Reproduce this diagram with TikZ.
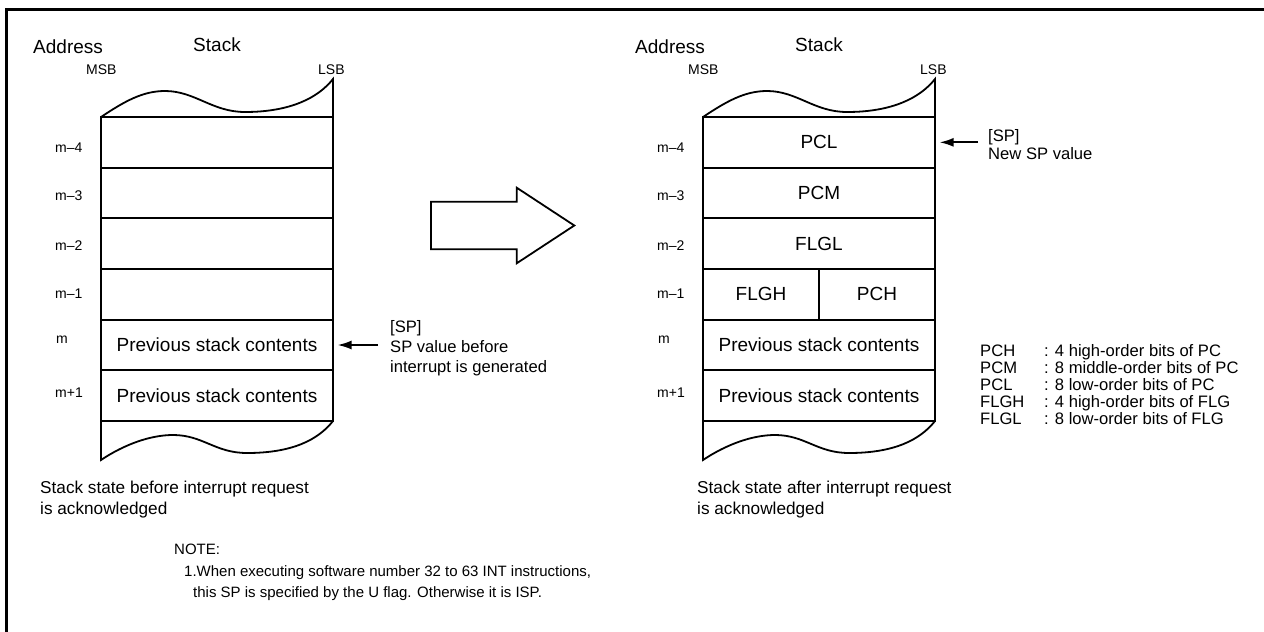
\documentclass[tikz,border=0pt]{standalone}
\usepackage{fontspec}
\setmainfont{Liberation Sans}
\usetikzlibrary{arrows.meta,calc}
\begin{document}
\begin{tikzpicture}[x=1pt,y=-1pt,
  cell/.style={draw, line width=1.8pt, minimum width=232pt, minimum height=50.67pt, inner sep=0pt, font=\fontsize{19}{22}\selectfont},
  halfcell/.style={cell, minimum width=116pt},
  edge/.style={line width=1.8pt, line join=miter},
  big/.style={inner sep=0pt, font=\fontsize{19}{22}\selectfont},
  addr/.style={inner sep=0pt, anchor=base west, font=\fontsize{14}{16}\selectfont},
  ann/.style={inner sep=0pt, anchor=base west, font=\fontsize{16.6}{20}\selectfont},
  captext/.style={inner sep=0pt, anchor=base west, font=\fontsize{17.2}{20}\selectfont},
  notetext/.style={inner sep=0pt, anchor=base west, font=\fontsize{15}{18}\selectfont},
  ptr/.style={line width=1.8pt, shorten >=3.7pt, -{Latex[length=14pt,width=9pt]}},
  frameline/.style={line width=2.7pt}]
\useasboundingbox (0,0) rectangle (1264,632);
% outer frame (top and left visible)
\draw[frameline] (6.2,640) -- (6.2,9.6) -- (1270,9.6);

% ---------------- left stack ----------------
\begin{scope}[name prefix=L-]
  \node[big, anchor=base west] (addr) at (33,53.8) {Address};
  \node[big, anchor=base] (stk) at (217,51.8) {Stack};
  \node[addr] (msb) at (86,74) {MSB};
  \node[addr] (lsb) at (318,74) {LSB};
  \draw[edge] (101,117) .. controls (125,101) and (143,91) .. (165,91)
     .. controls (195,91) and (212,112) .. (245,112)
     .. controls (290,112) and (318,98) .. (333,79) -- (333,117);
  \node[cell] (r1) at (217,142.33) {};
  \node[cell] (r2) at (217,193) {};
  \node[cell] (r3) at (217,243.67) {};
  \node[cell] (r4) at (217,294.33) {};
  \node[cell] (r5) at (217,345) {Previous stack contents};
  \node[cell] (r6) at (217,395.67) {Previous stack contents};
  \draw[edge] (101,421) -- (101,460) .. controls (125,444) and (151,435) .. (173,435)
     .. controls (203,435) and (215,453) .. (247,453)
     .. controls (292,453) and (318,440) .. (333,421);
  \node[addr] (a1) at (55,152) {m–4};
  \node[addr] (a2) at (55,200) {m–3};
  \node[addr] (a3) at (55,250.7) {m–2};
  \node[addr] (a4) at (55,298) {m–1};
  \node[addr] (a5) at (56,343.6) {m};
  \node[addr] (a6) at (55,397) {m+1};
  \node[ann] (sp1) at (390,332.7) {[SP]};
  \node[ann] (sp2) at (390,352.7) {SP value before};
  \node[ann] (sp3) at (390,372.7) {interrupt is generated};
  \coordinate (tail) at (378,345);
  \draw[ptr] (tail) -- (tail -| r5.east);
  \node[captext] (cap1) at (40,493) {Stack state before interrupt request};
  \node[captext] (cap2) at (40,514) {is acknowledged};
\end{scope}

% ---------------- big arrow ----------------
\draw[line width=1.8pt, line join=miter] (431,201.7) -- (516.7,201.7) -- (516.7,187.7) -- (574.3,225.5)
  -- (516.7,263.3) -- (516.7,249.3) -- (431,249.3) -- cycle;

% ---------------- right stack ----------------
\begin{scope}[shift={(602,0)}, name prefix=R-]
  \node[big, anchor=base west] (addr) at (33,53.8) {Address};
  \node[big, anchor=base] (stk) at (217,51.8) {Stack};
  \node[addr] (msb) at (86,74) {MSB};
  \node[addr] (lsb) at (318,74) {LSB};
  \draw[edge] (101,117) .. controls (125,101) and (143,91) .. (165,91)
     .. controls (195,91) and (212,112) .. (245,112)
     .. controls (290,112) and (318,98) .. (333,79) -- (333,117);
  \node[cell] (r1) at (217,142.33) {PCL};
  \node[cell] (r2) at (217,193) {PCM};
  \node[cell] (r3) at (217,243.67) {FLGL};
  \node[halfcell] (r4a) at (159,294.33) {FLGH};
  \node[halfcell] (r4b) at (275,294.33) {PCH};
  \node[cell] (r5) at (217,345) {Previous stack contents};
  \node[cell] (r6) at (217,395.67) {Previous stack contents};
  \draw[edge] (101,421) -- (101,460) .. controls (125,444) and (151,435) .. (173,435)
     .. controls (203,435) and (215,453) .. (247,453)
     .. controls (292,453) and (318,440) .. (333,421);
  \node[addr] (a1) at (55,152) {m–4};
  \node[addr] (a2) at (55,200) {m–3};
  \node[addr] (a3) at (55,250.7) {m–2};
  \node[addr] (a4) at (55,298) {m–1};
  \node[addr] (a5) at (56,343.6) {m};
  \node[addr] (a6) at (55,397) {m+1};
  \node[ann] (sp1) at (386,141) {[SP]};
  \node[ann] (sp2) at (386,159) {New SP value};
  \coordinate (tail) at (376,142.33);
  \draw[ptr] (tail) -- (tail -| r1.east);
  \node[captext] (cap1) at (95,493) {Stack state after interrupt request};
  \node[captext] (cap2) at (95,514) {is acknowledged};
\end{scope}

% ---------------- legend ----------------
\node[ann] (k1) at (980,356) {PCH};
\node[ann] (k2) at (980,373) {PCM};
\node[ann] (k3) at (980,390) {PCL};
\node[ann] (k4) at (980,407) {FLGH};
\node[ann] (k5) at (980,424) {FLGL};
\node[ann] (d1) at (1044,356) {: 4 high-order bits of PC};
\node[ann] (d2) at (1044,373) {: 8 middle-order bits of PC};
\node[ann] (d3) at (1044,390) {: 8 low-order bits of PC};
\node[ann] (d4) at (1044,407) {: 4 high-order bits of FLG};
\node[ann] (d5) at (1044,424) {: 8 low-order bits of FLG};

% ---------------- note ----------------
\node[notetext] (n0) at (174,554) {NOTE:};
\node[notetext] (n1) at (184,576) {1.When executing software number 32 to 63 INT instructions,};
\node[notetext] (n2) at (193,597) {this SP is specified by the U flag. Otherwise it is ISP.};
\end{tikzpicture}
\end{document}
